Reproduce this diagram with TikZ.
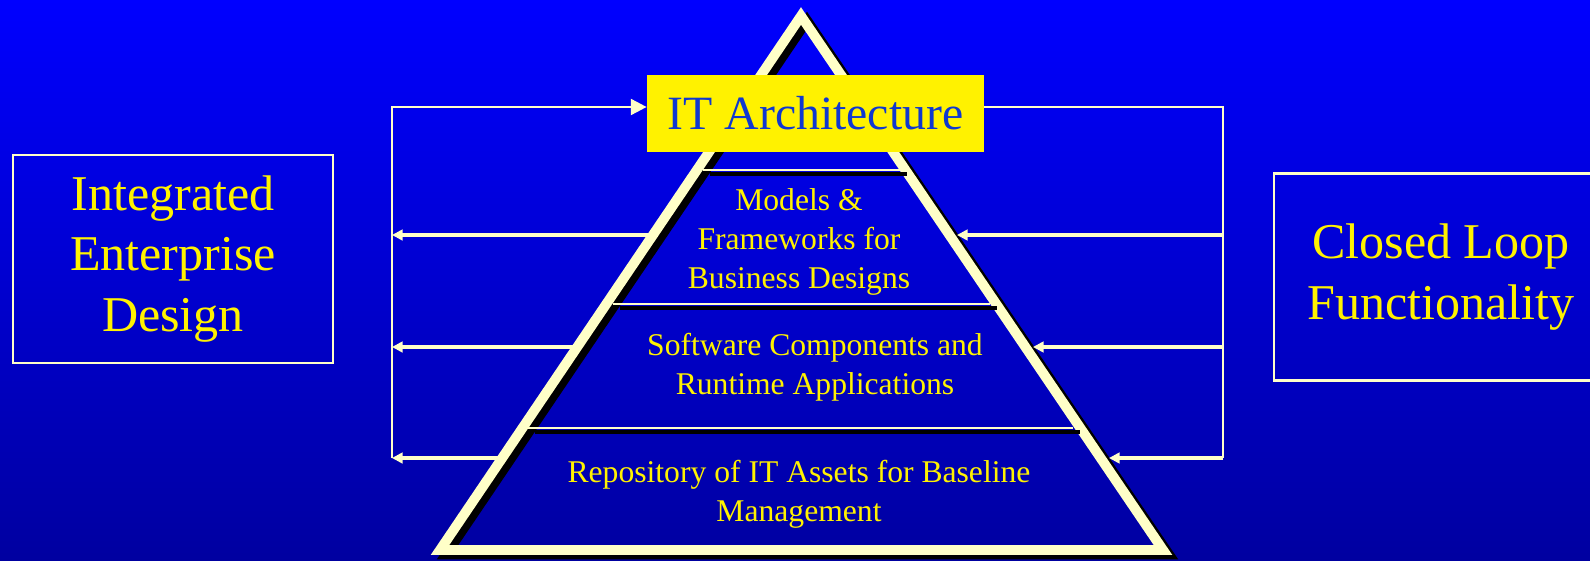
\documentclass[tikz,border=0pt]{standalone}
\usepackage{fontspec}
\setmainfont{Liberation Serif}
\usetikzlibrary{arrows.meta}
\definecolor{cream}{RGB}{255,255,200}
\definecolor{slidetop}{RGB}{0,0,255}
\definecolor{slidebot}{RGB}{0,0,160}
\definecolor{itblue}{RGB}{16,56,208}
\begin{document}
\begin{tikzpicture}[x=0.02cm, y=-0.02cm]
	\tikzstyle{big box} = [draw=cream, line width=1.5pt, text=yellow, align=center, font=\fontsize{28.5}{34.7}\selectfont]
	\tikzstyle{layer} = [text=yellow, align=center, inner sep=0pt, font=\fontsize{18}{22}\selectfont]
	\tikzstyle{rail} = [draw=cream, line width=1.5pt]
	\tikzstyle{feed} = [rail, line width=1.8pt, -{Triangle[length=6pt, width=6pt]}]
	\tikzstyle{edge} = [line width=5.6pt, line join=miter]
	\shade[top color=slidetop, bottom color=slidebot] (0,0) rectangle (1590,561);
	\useasboundingbox (0,0) rectangle (1590,561);
	% side boxes
	\node[big box, minimum width=6.4cm, minimum height=4.16cm] (ied) at (173,259) {Integrated\\Enterprise\\Design};
	\node[big box, minimum width=6.68cm, minimum height=4.14cm] (clf) at (1441,277) {Closed Loop\\Functionality};
	% pyramid
	\coordinate (apex) at (801,16);
	\coordinate (bl) at (440,550);
	\coordinate (br) at (1163,550);
	\draw[edge, black, transform canvas={xshift=1.2mm, yshift=-0.9mm}] (apex) -- (bl) -- (br) -- cycle;
	\draw[edge, cream] (apex) -- (bl) -- (br) -- cycle;
	\foreach \y/\a/\b in {170/703/900, 304/613/990, 428/528/1073} {
		\draw[black, line width=2.2pt] ({\a+7},{\y+4}) -- ({\b+7},{\y+4});
		\draw[cream, line width=1.2pt] (\a,\y) -- (\b,\y);
	}
	\node[layer] (models) at (799,242) {Models \&\\Frameworks for\\Business Designs};
	\node[layer] (soft) at (815,367) {Software Components and\\Runtime Applications};
	\node[layer] (repo) at (799,494) {Repository of IT Assets for Baseline\\Management};
	\node[fill=yellow, text=itblue, inner sep=0pt, minimum width=6.74cm, minimum height=1.54cm, font=\fontsize{27.2}{32}\selectfont] (ita) at (815.5,113.5) {IT Architecture};
	% loop rails
	\coordinate (lt) at (392,107);
	\coordinate (lb) at (392,458);
	\coordinate (rt) at (1223,107);
	\coordinate (rb) at (1223,458);
	\coordinate (l1) at (392,235);
	\coordinate (l2) at (392,347);
	\coordinate (r1) at (1223,235);
	\coordinate (r2) at (1223,347);
	% points on the pyramid sides
	\coordinate (p1) at (658,235);
	\coordinate (p2) at (580,347);
	\coordinate (p3) at (502,458);
	\coordinate (q1) at (957,235);
	\coordinate (q2) at (1033,347);
	\coordinate (q3) at (1109,458);
	\draw[rail, -{Triangle[length=9pt, width=9pt]}] (lb) -- (lt) -- (lt -| ita.west);
	\draw[rail] (ita.east |- rt) -- (rt) -- (rb);
	\draw[feed] (p1) -- (l1);
	\draw[feed] (p2) -- (l2);
	\draw[feed] (p3) -- (lb);
	\draw[feed] (r1) -- (q1);
	\draw[feed] (r2) -- (q2);
	\draw[feed] (rb) -- (q3);
\end{tikzpicture}
\end{document}
